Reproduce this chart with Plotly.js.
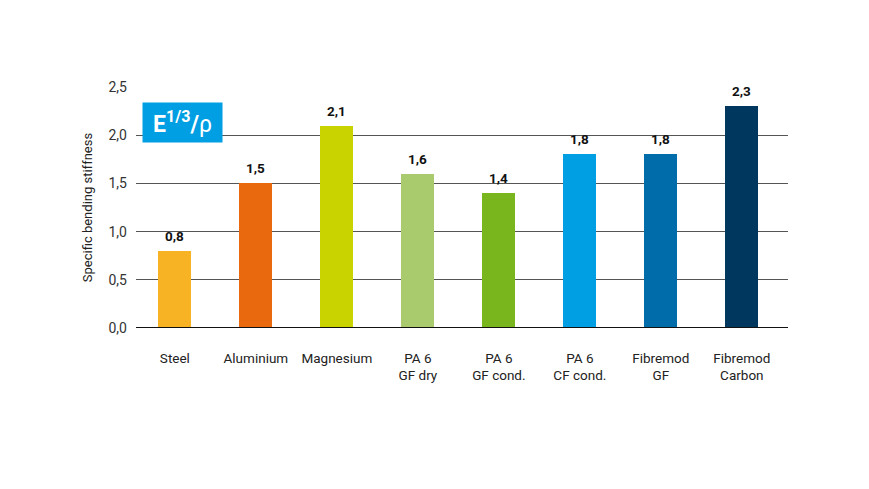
<!DOCTYPE html>
<html><head><meta charset="utf-8">
<script src="https://cdn.plot.ly/plotly-3.0.1.min.js"></script>
<style>html,body{margin:0;padding:0;background:#fff;}#chart{width:869px;height:489px;}</style>
</head><body><div id="chart"></div>
<script>
const categories = ["Steel", "Aluminium", "Magnesium", "PA 6<br>GF dry", "PA 6<br>GF cond.", "PA 6<br>CF cond.", "Fibremod<br>GF", "Fibremod<br>Carbon"];
const values = [0.8, 1.5, 2.1, 1.6, 1.4, 1.8, 1.8, 2.3];
const barColors = ["#F7B324", "#E9690F", "#C8D300", "#A9CB6D", "#79B51D", "#009FE3", "#006CAA", "#00375F"];
const yTicks = [0, 0.5, 1.0, 1.5, 2.0, 2.5];
const idx = categories.map((c, i) => i);

const trace = {
  type: "bar",
  x: idx,
  y: values,
  width: 0.41,
  marker: {color: barColors, line: {width: 0}},
  hoverinfo: "none"
};

const valueLabels = values.map((v, i) => ({
  x: i, y: v, xref: "x", yref: "y",
  text: v.toFixed(1).replace(".", ","),
  showarrow: false, yanchor: "bottom", yshift: 5,
  font: {family: "Roboto, Arial, sans-serif", size: 13.5, color: "#111", weight: 700}
}));

const layout = {
  width: 869, height: 489,
  margin: {l: 136, r: 81, t: 87, b: 161, pad: 0},
  paper_bgcolor: "#fff", plot_bgcolor: "#fff",
  separators: ",.",
  showlegend: false,
  bargap: 0,
  font: {family: "Roboto, Arial, sans-serif", color: "#222"},
  xaxis: {
    range: [-0.48, 7.57],
    tickmode: "array", tickvals: idx, ticktext: categories,
    showgrid: false, zeroline: false, showline: false,
    ticks: "", ticklabelstandoff: 20,
    tickfont: {size: 13.5, color: "#222"}
  },
  yaxis: {
    range: [0, 2.5],
    tickmode: "array", tickvals: yTicks, tickformat: ".1f",
    showgrid: true, gridcolor: "#555", gridwidth: 1,
    zeroline: false, showline: false, ticks: "",
    ticklabelstandoff: 8,
    tickfont: {size: 14, color: "#333"},
    title: {text: "Specific bending stiffness", font: {size: 13, color: "#222"}, standoff: 12}
  },
  shapes: [{type: "line", xref: "paper", yref: "y", x0: 0, x1: 1, y0: 0, y1: 0, line: {color: "#111", width: 2}}],
  annotations: valueLabels.concat([{
    xref: "paper", yref: "paper", x: 0.0713, y: 0.853,
    xanchor: "center", yanchor: "middle",
    text: "E<sup>1/3</sup>/<span style=\"font-weight:400\">ρ</span>", showarrow: false,
    bgcolor: "#009FE3", width: 79, height: 39, borderpad: 0,
    font: {family: "Roboto, Arial, sans-serif", size: 23, color: "#fff", weight: 700}
  }])
};

Plotly.newPlot("chart", [trace], layout, {displayModeBar: false, staticPlot: true});
</script></body></html>
